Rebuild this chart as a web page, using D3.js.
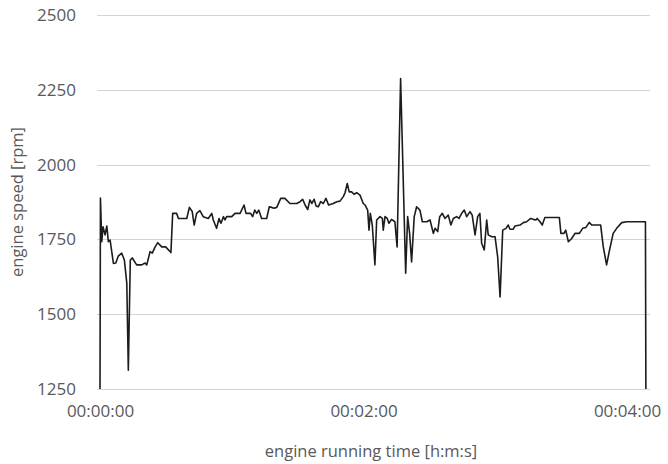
<!DOCTYPE html>
<html>
<head>
<meta charset="utf-8">
<script src="https://cdn.jsdelivr.net/npm/d3@7"></script>
<style>
  html, body { margin: 0; padding: 0; background: #fff; }
  svg { display: block; }
  text { font-family: "Open Sans", "Noto Sans", sans-serif; fill: #595959; }
</style>
</head>
<body>
<svg id="chart" width="668" height="464"></svg>
<script>
// engine running time in seconds
const timeSec = [
  0, 0.2, 0.8, 1.4, 2.3, 3.1, 3.8, 4.6, 6.1, 7.2, 8.3, 9.9, 11.1, 12.2, 12.9,
  13.8, 14.7, 16.7, 19.0, 20.5, 21.3, 22.8, 23.8, 25.1, 26.3, 28.1, 29.9, 32.3,
  33.1, 34.9, 35.7, 39.5, 40.7, 42.0, 42.9, 44.0, 45.5, 47.0, 49.3, 50.9, 51.6,
  53.1, 54.2, 55.1, 56.2, 56.9, 57.7, 60.0, 61.5, 63.8, 65.6, 66.5, 68.6, 69.5,
  70.5, 71.4, 72.3, 73.6, 75.9, 77.1, 78.2, 79.2, 80.5, 82.3, 84.2, 86.5, 89.6,
  91.1, 92.3, 93.4, 94.6, 95.6, 96.5, 97.5, 98.4, 99.4, 100.5, 101.7, 102.9,
  104.1, 106.2, 107.8, 109.3, 110.8, 111.6, 112.6, 113.5, 114.6, 115.7, 116.9,
  118.4, 119.9, 120.7, 121.9, 122.5, 123.1, 124.0, 125.2, 126.0, 127.5, 128.6,
  129.0, 129.8, 130.8, 131.6, 132.8, 134.3, 135.3, 136.9, 139.2, 140.1, 141.0,
  141.9, 143.1, 144.2, 145.7, 146.8, 148.8, 150.3, 151.8, 152.6, 153.8, 154.7,
  155.9, 157.1, 158.6, 159.8, 160.9, 162.4, 163.5, 164.7, 165.9, 167.0, 168.5,
  169.5, 170.8, 172.0, 173.0, 173.8, 175.0, 176.1, 176.8, 178.4, 179.9, 181.1,
  182.2, 183.4, 184.9, 185.9, 186.7, 188.2, 189.0, 191.3, 192.8, 194.3, 196.1,
  197.3, 198.5, 199.1, 200.4, 201.4, 202.6, 209.2, 209.9, 211.3, 212.1, 213.3,
  214.8, 216.3, 218.3, 219.8, 221.3, 222.8, 223.9, 228.0, 229.2, 230.7, 231.9,
  233.7, 235.3, 237.6, 239.8, 248.4, 248.6
];

// engine speed in rpm
const engineRpm = [
  1250, 1888, 1742, 1792, 1765, 1795, 1742, 1748, 1670, 1671, 1694, 1704, 1681, 1604, 1313,
  1681, 1688, 1665, 1665, 1671, 1665, 1709, 1704, 1725, 1739, 1725, 1725, 1706,
  1837, 1837, 1820, 1820, 1857, 1843, 1798, 1837, 1846, 1826, 1820, 1837, 1815,
  1787, 1820, 1804, 1826, 1815, 1826, 1826, 1837, 1837, 1865, 1837, 1837, 1826,
  1848, 1837, 1848, 1820, 1820, 1859, 1857, 1854, 1857, 1887, 1887, 1870, 1870,
  1876, 1884, 1865, 1850, 1882, 1870, 1884, 1862, 1859, 1876, 1870, 1887,
  1865, 1870, 1876, 1878, 1893, 1906, 1937, 1909, 1909, 1901, 1906,
  1898, 1870, 1865, 1848, 1781, 1837, 1798, 1665, 1815, 1826, 1820,
  1781, 1826, 1820, 1804, 1817, 1809, 1725, 2288, 1637, 1826, 1770,
  1675, 1826, 1859, 1848, 1809, 1809, 1815, 1770, 1787, 1776, 1826,
  1837, 1820, 1831, 1798, 1820, 1826, 1820, 1837, 1848, 1826, 1843,
  1831, 1765, 1826, 1837, 1737, 1715, 1815, 1765, 1759, 1759, 1692,
  1558, 1781, 1787, 1798, 1784, 1784, 1795, 1798, 1806, 1809, 1820,
  1817, 1815, 1820, 1809, 1798, 1823, 1823, 1770, 1770, 1781, 1742,
  1753, 1770, 1770, 1787, 1790, 1807, 1798, 1798, 1725, 1665, 1709,
  1770, 1787, 1806, 1809, 1809, 1250
];

const yTicks = [1250, 1500, 1750, 2000, 2250, 2500];
const xTicks = [0, 120, 240];
const xTitle = "engine running time [h:m:s]";
const yTitle = "engine speed [rpm]";

const svg = d3.select("#chart");

const x = d3.scaleLinear().domain([0, 240]).range([100, 627]);
const y = d3.scaleLinear().domain([1250, 2500]).range([389, 15]);

const plotLeft = 97, plotRight = 650;

// horizontal gridlines
svg.append("g")
  .selectAll("line")
  .data(yTicks)
  .join("line")
  .attr("x1", plotLeft)
  .attr("x2", plotRight)
  .attr("y1", d => Math.round(y(d)) + 0.5)
  .attr("y2", d => Math.round(y(d)) + 0.5)
  .attr("stroke", "#d4d4d4")
  .attr("stroke-width", 1);

// y axis labels
const yAxis = d3.axisLeft(y).tickValues(yTicks).tickFormat(d3.format("d")).tickSize(0).tickPadding(0);
svg.append("g")
  .attr("transform", "translate(76,0)")
  .call(yAxis)
  .call(g => g.select(".domain").remove())
  .call(g => g.selectAll("text")
    .attr("font-size", 17)
    .attr("font-family", null)
    .attr("fill", "#595959"));

// x axis labels
const fmt = s => {
  const h = Math.floor(s / 3600), m = Math.floor((s % 3600) / 60), sec = Math.round(s % 60);
  return [h, m, sec].map(v => String(v).padStart(2, "0")).join(":");
};
const xAxis = d3.axisBottom(x).tickValues(xTicks).tickFormat(fmt).tickSize(0).tickPadding(0);
svg.append("g")
  .attr("transform", "translate(0,405)")
  .call(xAxis)
  .call(g => g.select(".domain").remove())
  .call(g => g.selectAll("text")
    .attr("font-size", 17)
    .attr("font-family", null)
    .attr("fill", "#595959"));

// data line
const pts = timeSec.map((t, i) => [t, engineRpm[i]]);
const line = d3.line().x(d => x(d[0])).y(d => y(d[1]));
svg.append("path")
  .datum(pts)
  .attr("d", line)
  .attr("fill", "none")
  .attr("stroke", "#1c1c1c")
  .attr("stroke-width", 1.6)
  .attr("stroke-linejoin", "round");

// axis titles
svg.append("text")
  .attr("x", 371)
  .attr("y", 457)
  .attr("text-anchor", "middle")
  .attr("font-size", 16.5)
  .text(xTitle);

svg.append("text")
  .attr("transform", "translate(23,202) rotate(-90)")
  .attr("text-anchor", "middle")
  .attr("font-size", 16.5)
  .text(yTitle);
</script>
</body>
</html>
